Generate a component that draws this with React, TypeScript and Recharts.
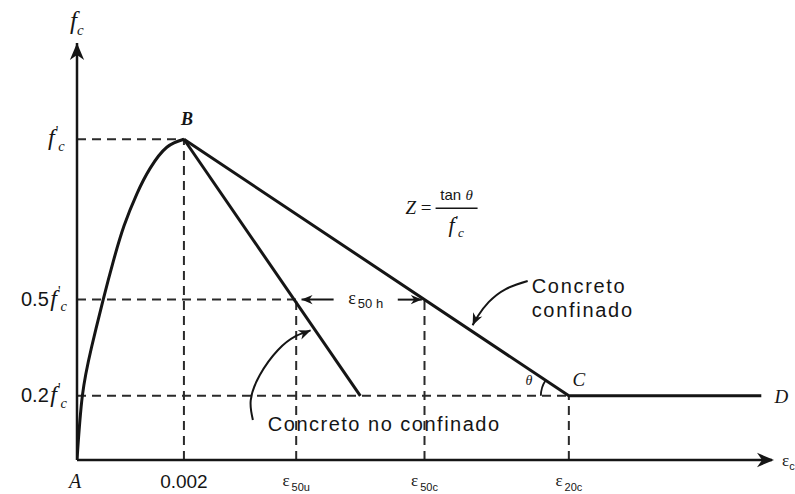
import React from 'react';
import { ComposedChart, Line, XAxis, YAxis, ReferenceLine, ReferenceDot } from 'recharts';

const INK = '#151515';
const SERIF = '"Liberation Serif", "DejaVu Serif", serif';
const SANS = '"Liberation Sans", Arial, sans-serif';

// Strain (x) vs. stress normalised by f'c (y)
const risingBranch = [
  { x: 0, y: 0 },
  { x: 0.0001, y: 0.2 },
  { x: 0.00027, y: 0.35 },
  { x: 0.00049, y: 0.5 },
  { x: 0.00068, y: 0.62 },
  { x: 0.00088, y: 0.73 },
  { x: 0.00112, y: 0.83 },
  { x: 0.00137, y: 0.91 },
  { x: 0.00168, y: 0.975 },
  { x: 0.002, y: 1 },
];
const unconfinedBranch = [
  { x: 0.002, y: 1 },
  { x: 0.0053, y: 0.2 },
];
const confinedBranch = [
  { x: 0.002, y: 1 },
  { x: 0.0092, y: 0.2 },
  { x: 0.0128, y: 0.2 },
];

// Key strains
const strainPeak = 0.002;
const strain50u = 0.0041;
const strain50c = 0.0065;
const strain20c = 0.0092;

// Axis ticks and labels
const xTicks = [0, strainPeak, strain50u, strain50c, strain20c];
const xTickMain = ['A', '0.002', 'ε', 'ε', 'ε'];
const xTickSub = ['', '', '50u', '50c', '20c'];
const yTicks = [0.2, 0.5, 1];
const yTickCoef = ['0.2', '0.5', ''];

// Leader curves pointing at the two descending branches
const noConfLeader = [
  { x: 0.00329, y: 0.125 },
  { x: 0.00325, y: 0.187 },
  { x: 0.00342, y: 0.265 },
  { x: 0.00376, y: 0.343 },
  { x: 0.00409, y: 0.386 },
  { x: 0.00437, y: 0.404 },
];
const confLeader = [
  { x: 0.00843, y: 0.558 },
  { x: 0.00802, y: 0.533 },
  { x: 0.0077, y: 0.492 },
  { x: 0.0075, y: 0.449 },
  { x: 0.0074, y: 0.42 },
];

const X_MAX = 0.013;
const Y_MAX = 1.3;

const Arrowhead = ({ cx, cy, angle, size = 13 }: any) => (
  <path
    d={`M0,0 L${-size},${-size * 0.42} L${-size * 0.7},0 L${-size},${size * 0.42} Z`}
    transform={`translate(${cx},${cy}) rotate(${angle})`}
    fill={INK}
  />
);

// Italic f with a prime and subscript c
const FPrime = ({ size = 20 }: { size?: number }) => (
  <>
    <tspan fontFamily={SERIF} fontStyle="italic" fontSize={size}>f</tspan>
    <tspan fontFamily={SERIF} fontSize={size * 0.6} dx={1} dy={-size * 0.38}>'</tspan>
    <tspan fontFamily={SERIF} fontStyle="italic" fontSize={size * 0.6} dy={size * 0.62}>c</tspan>
  </>
);

const XTick = (props: any) => {
  const { x, payload } = props;
  const i = xTicks.indexOf(payload.value);
  const main = xTickMain[i] ?? '';
  const sub = xTickSub[i] ?? '';
  if (main === 'A') {
    return (
      <text x={x - 2} y={488} textAnchor="middle" fontFamily={SERIF} fontStyle="italic" fontSize={20} fill={INK}>
        A
      </text>
    );
  }
  if (!sub) {
    return (
      <text x={x} y={488} textAnchor="middle" fontFamily={SANS} fontSize={19} fill={INK}>
        {main}
      </text>
    );
  }
  return (
    <text x={x} y={486} textAnchor="middle" fill={INK}>
      <tspan fontFamily={SERIF} fontSize={17}>{main}</tspan>
      <tspan fontFamily={SANS} fontSize={11} dy={5} dx={2}>{sub}</tspan>
    </text>
  );
};

const YTick = (props: any) => {
  const { y, payload } = props;
  const i = yTicks.indexOf(payload.value);
  const coef = yTickCoef[i] ?? '';
  return (
    <text x={coef ? 21 : 48} y={y + 6} textAnchor="start" fill={INK}>
      {coef && <tspan fontFamily={SANS} fontSize={20}>{coef}</tspan>}
      {coef && <tspan fontSize={6}> </tspan>}
      <FPrime size={24} />
    </text>
  );
};

const dash = { stroke: '#2a2a2a', strokeWidth: 2, strokeDasharray: '9 6' };
const solid = { stroke: INK, strokeWidth: 3, dot: false, isAnimationActive: false, strokeLinejoin: 'round' as const };

export default function App() {
  return (
    <div style={{ position: 'absolute', left: 0, top: 0, background: '#fff' }}>
      <ComposedChart width={795} height={494} margin={{ top: 43, right: 23, bottom: 0, left: 0 }}>
        <XAxis
          type="number"
          dataKey="x"
          domain={[0, X_MAX]}
          ticks={xTicks}
          tick={<XTick />}
          tickLine={false}
          axisLine={{ stroke: INK, strokeWidth: 2.5 }}
          height={34}
          allowDataOverflow
          interval={0}
        />
        <YAxis
          type="number"
          domain={[0, Y_MAX]}
          ticks={yTicks}
          tick={<YTick />}
          tickLine={false}
          axisLine={{ stroke: INK, strokeWidth: 2.5 }}
          width={77}
          allowDataOverflow
          interval={0}
        />

        {/* reference dashes */}
        <ReferenceLine segment={[{ x: 0, y: 1 }, { x: strainPeak, y: 1 }]} {...dash} />
        <ReferenceLine segment={[{ x: strainPeak, y: 0 }, { x: strainPeak, y: 1 }]} {...dash} />
        <ReferenceLine segment={[{ x: 0, y: 0.5 }, { x: strain50u, y: 0.5 }]} {...dash} />
        <ReferenceLine segment={[{ x: strain50u, y: 0 }, { x: strain50u, y: 0.5 }]} {...dash} />
        <ReferenceLine segment={[{ x: strain50c, y: 0 }, { x: strain50c, y: 0.5 }]} {...dash} />
        <ReferenceLine segment={[{ x: 0, y: 0.2 }, { x: strain20c, y: 0.2 }]} {...dash} />
        <ReferenceLine segment={[{ x: strain20c, y: 0 }, { x: strain20c, y: 0.2 }]} {...dash} />

        {/* stress-strain branches */}
        <Line data={risingBranch} dataKey="y" type="natural" {...solid} />
        <Line data={unconfinedBranch} dataKey="y" type="linear" {...solid} />
        <Line data={confinedBranch} dataKey="y" type="linear" {...solid} />

        {/* leader curves */}
        <Line data={noConfLeader} dataKey="y" type="natural" stroke={INK} strokeWidth={2} dot={false} isAnimationActive={false} />
        <Line data={confLeader} dataKey="y" type="natural" stroke={INK} strokeWidth={2} dot={false} isAnimationActive={false} />
        <ReferenceDot x={0.00437} y={0.404} ifOverflow="visible" shape={(p: any) => <Arrowhead cx={p.cx} cy={p.cy} angle={-22} size={12} />} />
        <ReferenceDot x={0.0074} y={0.42} ifOverflow="visible" shape={(p: any) => <Arrowhead cx={p.cx} cy={p.cy} angle={115} size={12} />} />

        {/* ε50h span */}
        <ReferenceLine segment={[{ x: 0.0042, y: 0.5 }, { x: 0.0048, y: 0.5 }]} stroke={INK} strokeWidth={2} />
        <ReferenceLine segment={[{ x: 0.006, y: 0.5 }, { x: 0.00645, y: 0.5 }]} stroke={INK} strokeWidth={2} />
        <ReferenceDot x={0.0042} y={0.5} ifOverflow="visible" shape={(p: any) => <Arrowhead cx={p.cx} cy={p.cy} angle={180} size={11} />} />
        <ReferenceDot x={0.00645} y={0.5} ifOverflow="visible" shape={(p: any) => <Arrowhead cx={p.cx} cy={p.cy} angle={0} size={11} />} />
        <ReferenceDot
          x={0.0054}
          y={0.5}
          ifOverflow="visible"
          shape={(p: any) => (
            <text x={p.cx} y={p.cy + 4} textAnchor="middle" fill={INK}>
              <tspan fontFamily={SERIF} fontSize={18}>ε</tspan>
              <tspan fontFamily={SANS} fontSize={13} dy={4} dx={2}>50 h</tspan>
            </text>
          )}
        />

        {/* axis arrowheads and titles */}
        <ReferenceDot x={0} y={Y_MAX} ifOverflow="visible" shape={(p: any) => <Arrowhead cx={p.cx} cy={p.cy} angle={-90} size={17} />} />
        <ReferenceDot x={X_MAX} y={0} ifOverflow="visible" shape={(p: any) => <Arrowhead cx={p.cx + 2} cy={p.cy} angle={0} size={17} />} />
        <ReferenceDot
          x={0}
          y={Y_MAX}
          ifOverflow="visible"
          shape={(p: any) => (
            <text x={p.cx - 7} y={p.cy - 14} fill={INK}>
              <tspan fontFamily={SERIF} fontStyle="italic" fontSize={25}>f</tspan>
              <tspan fontFamily={SERIF} fontStyle="italic" fontSize={15} dy={6}>c</tspan>
            </text>
          )}
        />
        <ReferenceDot
          x={X_MAX}
          y={0}
          ifOverflow="visible"
          shape={(p: any) => (
            <text x={p.cx + 10} y={p.cy + 6} fill={INK}>
              <tspan fontFamily={SERIF} fontSize={17}>ε</tspan>
              <tspan fontFamily={SANS} fontSize={11} dy={4}>c</tspan>
            </text>
          )}
        />

        {/* point labels */}
        <ReferenceDot x={strainPeak} y={1} ifOverflow="visible" shape={(p: any) => (
          <text x={p.cx + 3} y={p.cy - 14} textAnchor="middle" fontFamily={SERIF} fontStyle="italic" fontWeight="bold" fontSize={18} fill={INK}>B</text>
        )} />
        <ReferenceDot x={strain20c} y={0.2} ifOverflow="visible" shape={(p: any) => (
          <g>
            <text x={p.cx + 10} y={p.cy - 10} textAnchor="middle" fontFamily={SERIF} fontStyle="italic" fontSize={19} fill={INK}>C</text>
            <text x={p.cx - 40} y={p.cy - 11} textAnchor="middle" fontFamily={SERIF} fontStyle="italic" fontSize={14} fill={INK}>θ</text>
            <path d={`M${p.cx - 28},${p.cy} A28,28 0 0 1 ${p.cx - 23.2},${p.cy - 15.7}`} fill="none" stroke={INK} strokeWidth={1.8} />
          </g>
        )} />
        <ReferenceDot x={0.0128} y={0.2} ifOverflow="visible" shape={(p: any) => (
          <text x={p.cx + 20} y={p.cy + 7} textAnchor="middle" fontFamily={SERIF} fontStyle="italic" fontSize={19} fill={INK}>D</text>
        )} />

        {/* Z = tan θ / f'c */}
        <ReferenceDot x={0.0071} y={0.785} ifOverflow="visible" shape={(p: any) => (
          <g fill={INK}>
            <text x={p.cx - 25} y={p.cy + 6} textAnchor="end" fontFamily={SERIF} fontSize={19}>
              <tspan fontStyle="italic">Z</tspan> =
            </text>
            <text x={p.cx} y={p.cy - 8} textAnchor="middle" fontFamily={SANS} fontSize={15}>
              tan <tspan fontFamily={SERIF} fontStyle="italic">θ</tspan>
            </text>
            <line x1={p.cx - 21} x2={p.cx + 21} y1={p.cy} y2={p.cy} stroke={INK} strokeWidth={1.6} />
            <text x={p.cx - 8} y={p.cy + 24} fill={INK}>
              <FPrime size={22} />
            </text>
          </g>
        )} />

        {/* branch captions */}
        <ReferenceDot x={0.00843} y={0.558} ifOverflow="visible" shape={(p: any) => (
          <text fontFamily={SANS} fontSize={20} letterSpacing={1.7} fill={INK}>
            <tspan x={p.cx + 4} y={p.cy + 12}>Concreto</tspan>
            <tspan x={p.cx + 4} y={p.cy + 36}>confinado</tspan>
          </text>
        )} />
        <ReferenceDot x={0.00357} y={0.09} ifOverflow="visible" shape={(p: any) => (
          <text x={p.cx} y={p.cy} fontFamily={SANS} fontSize={20} letterSpacing={1.5} fill={INK}>
            Concreto no confinado
          </text>
        )} />
      </ComposedChart>
    </div>
  );
}
